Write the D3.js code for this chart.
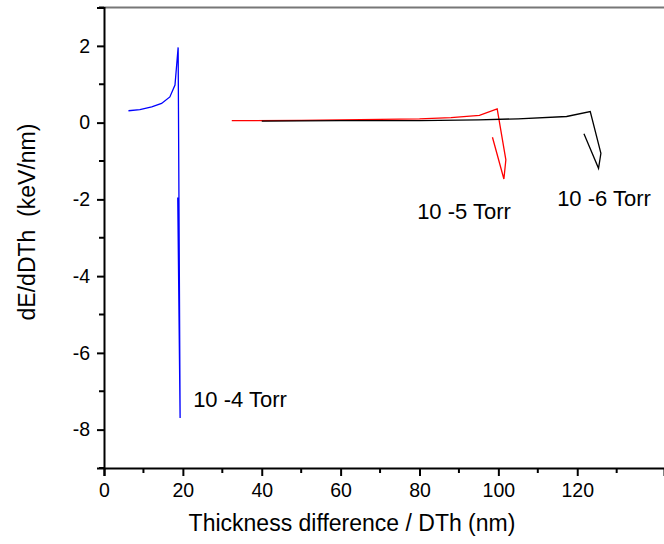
<!DOCTYPE html>
<html>
<head>
<meta charset="utf-8">
<script src="https://cdn.jsdelivr.net/npm/d3@7"></script>
<style>
  body { margin: 0; background: #fff; }
  text { font-family: Arial, "Liberation Sans", sans-serif; fill: #000; }
</style>
</head>
<body>
<script>
// Series: [thickness difference (nm), dE/dDTh (keV/nm)]
var torr4 = [[6.2, 0.31], [9.1, 0.34], [12.1, 0.41], [14.6, 0.5], [16.7, 0.67],
             [18.0, 0.98], [18.8, 1.96], [19.3, -7.7], [18.7, -1.95]];
var torr5 = [[32.4, 0.05], [50, 0.06], [65, 0.08], [80, 0.10], [88, 0.13],
             [95.2, 0.19], [99.7, 0.36], [101.9, -0.97], [101.4, -1.47], [98.5, -0.38]];
var torr6 = [[40, 0.04], [60, 0.05], [80, 0.05], [95, 0.07], [105, 0.1],
             [117.3, 0.16], [123.3, 0.29], [126.0, -0.8], [125.4, -1.19], [121.7, -0.29]];

var xTicks = [0, 20, 40, 60, 80, 100, 120];
var xMinor = [10, 30, 50, 70, 90, 110, 130];
var yTicks = [2, 0, -2, -4, -6, -8];
var yMinor = [3, 1, -1, -3, -5, -7, -9];

var seriesNames = ["10 -4 Torr", "10 -5 Torr", "10 -6 Torr"];
var seriesColors = ["#0000ff", "#ff0000", "#000000"];
// label anchors in data units
var labelAt = [[22.6, -7.41], [79.4, -2.52], [114.9, -2.18]];

var width = 664, height = 544;

var svg = d3.select(document.body).append("svg")
  .attr("width", width).attr("height", height);

// Scales: plot runs off the right side of the window
var x = d3.scaleLinear().domain([0, 142]).range([104, 664]);
var y = d3.scaleLinear().domain([-9, 3]).range([468, 7.5]);

// top frame line
svg.append("line")
  .attr("x1", x(0)).attr("x2", width)
  .attr("y1", y(3)).attr("y2", y(3))
  .attr("stroke", "#777").attr("stroke-width", 2);

// x axis with minor ticks
var xAxis = svg.append("g").attr("transform", "translate(0," + y(-9) + ")");
xAxis.call(d3.axisBottom(x).tickValues(xTicks).tickSize(8).tickPadding(7).tickFormat(d3.format("d")));
xAxis.selectAll(".minor").data(xMinor).enter().append("line")
  .attr("class", "minor")
  .attr("x1", function(d) { return x(d); }).attr("x2", function(d) { return x(d); })
  .attr("y1", 0).attr("y2", 5)
  .attr("stroke", "#000").attr("stroke-width", 2);

// y axis with minor ticks
var yAxis = svg.append("g").attr("transform", "translate(" + x(0) + ",0)");
yAxis.call(d3.axisLeft(y).tickValues(yTicks).tickSize(7).tickPadding(7).tickFormat(d3.format("d")));
yAxis.selectAll(".minor").data(yMinor).enter().append("line")
  .attr("class", "minor")
  .attr("y1", function(d) { return y(d); }).attr("y2", function(d) { return y(d); })
  .attr("x1", 0).attr("x2", -5)
  .attr("stroke", "#000").attr("stroke-width", 2);

svg.selectAll(".domain").attr("stroke", "#000").attr("stroke-width", 2);
svg.selectAll(".tick line").attr("stroke", "#000").attr("stroke-width", 2);
svg.selectAll(".tick text")
  .style("font-family", "Arial, 'Liberation Sans', sans-serif")
  .style("font-size", "19.5px")
  .text(function(d) { return d < 0 ? "-" + Math.abs(d) : d; });

// axis titles
svg.append("text")
  .attr("x", 352).attr("y", 531)
  .attr("text-anchor", "middle")
  .style("font-size", "23px")
  .text("Thickness difference / DTh (nm)");

svg.append("text")
  .attr("transform", "translate(35,222) rotate(-90)")
  .attr("text-anchor", "middle")
  .style("font-size", "23px")
  .text("dE/dDTh\u00a0\u00a0(keV/nm)");

// curves
var line = d3.line()
  .x(function(d) { return x(d[0]); })
  .y(function(d) { return y(d[1]); });

[torr4, torr5, torr6].forEach(function(s, i) {
  svg.append("path")
    .datum(s)
    .attr("d", line)
    .attr("fill", "none")
    .attr("stroke", seriesColors[i])
    .attr("stroke-width", 1.3)
    .attr("stroke-linejoin", "miter");

  svg.append("text")
    .attr("x", x(labelAt[i][0]))
    .attr("y", y(labelAt[i][1]))
    .style("font-size", "22px")
    .text(seriesNames[i]);
});
</script>
</body>
</html>
